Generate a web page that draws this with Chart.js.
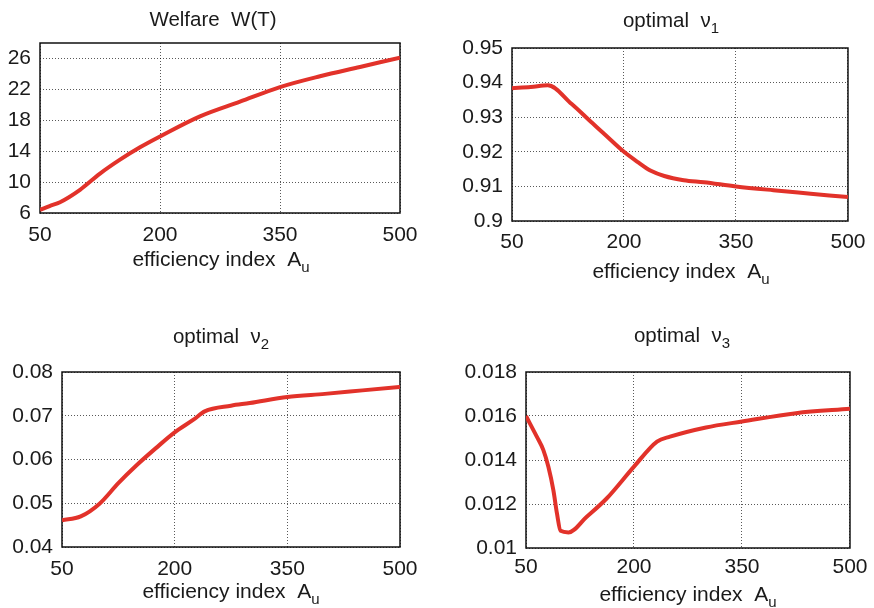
<!DOCTYPE html>
<html>
<head>
<meta charset="utf-8">
<script src="https://cdn.jsdelivr.net/npm/chart.js@4.4.0/dist/chart.umd.min.js"></script>
<style>
  body { margin: 0; background: #fff; width: 874px; height: 608px; position: relative; overflow: hidden; }
  canvas { position: absolute; }
</style>
</head>
<body>
<canvas id="welfare" width="437" height="300" style="left:0;top:0"></canvas>
<canvas id="nu1" width="437" height="300" style="left:437px;top:0"></canvas>
<canvas id="nu2" width="437" height="308" style="left:0;top:300px"></canvas>
<canvas id="nu3" width="437" height="308" style="left:437px;top:300px"></canvas>
<script>
// x axis shared by all four panels
var xTicks = [50, 200, 350, 500];

// Welfare W(T)
var welfareX = [50, 62, 75, 100, 125, 150, 175, 200, 250, 300, 350, 400, 450, 500];
var welfareY = [6.4, 6.9, 7.4, 9.0, 11.1, 12.9, 14.5, 15.9, 18.5, 20.4, 22.3, 23.7, 24.9, 26.1];
var welfareTicks = [6, 10, 14, 18, 22, 26];

// optimal nu1
var nu1X = [50, 75, 98, 130, 156, 174, 200, 218, 236, 254, 280, 307, 350, 400, 450, 500];
var nu1Y = [0.9384, 0.9387, 0.9392, 0.9338, 0.9286, 0.9251, 0.9200, 0.9171, 0.9145, 0.9130, 0.9118, 0.9112, 0.9100, 0.9089, 0.9079, 0.9069];
var nu1Ticks = [0.9, 0.91, 0.92, 0.93, 0.94, 0.95];

// optimal nu2
var nu2X = [50, 75, 100, 125, 150, 175, 200, 225, 240, 275, 300, 350, 400, 450, 500];
var nu2Y = [0.0461, 0.0470, 0.0499, 0.0546, 0.0588, 0.0626, 0.0662, 0.0691, 0.0710, 0.0723, 0.0729, 0.0743, 0.0750, 0.0758, 0.0766];
var nu2Ticks = [0.04, 0.05, 0.06, 0.07, 0.08];

// optimal nu3
var nu3X = [50, 65, 74, 81, 88, 93, 98, 109, 134, 162, 200, 232, 250, 300, 350, 425, 500];
var nu3Y = [0.0160, 0.01506, 0.01446, 0.0137, 0.01263, 0.01157, 0.01078, 0.01071, 0.01141, 0.01225, 0.0137, 0.01484, 0.01506, 0.01548, 0.01575, 0.01613, 0.01633];
var nu3Ticks = [0.01, 0.012, 0.014, 0.016, 0.018];

var FONT = "'Liberation Sans', Arial, Helvetica, sans-serif";
var RED = '#e2322a';

// draw text with optional subscript pieces
function drawRich(ctx, parts, cx, baseline, size) {
  ctx.save();
  ctx.fillStyle = '#1a1a1a';
  ctx.textBaseline = 'alphabetic';
  ctx.textAlign = 'left';
  var total = 0;
  parts.forEach(function (p) {
    ctx.font = (p[1] ? 15 : size) + 'px ' + FONT;
    total += ctx.measureText(p[0]).width;
  });
  var x = cx - total / 2;
  parts.forEach(function (p) {
    ctx.font = (p[1] ? 15 : size) + 'px ' + FONT;
    ctx.fillText(p[0], x, baseline + (p[1] ? 6 : 0));
    x += ctx.measureText(p[0]).width;
  });
  ctx.restore();
}

var textPlugin = {
  id: 'panelText',
  beforeDatasetsDraw: function (chart) {
    var a = chart.chartArea, ctx = chart.ctx;
    ctx.save();
    ctx.strokeStyle = '#111';
    ctx.lineWidth = 1.5;
    ctx.strokeRect(a.left, a.top, a.right - a.left, a.bottom - a.top);
    ctx.restore();
  },
  afterDraw: function (chart, args, o) {
    drawRich(chart.ctx, o.title, o.titleX, o.titleY, 20.5);
    drawRich(chart.ctx, o.xlabel, o.xlabelX, o.xlabelY, 21);
  }
};

function fmt(v) { return String(Math.round(v * 1e6) / 1e6); }

function makePanel(id, xs, ys, yTicks, yMin, yMax, box, text) {
  var pts = xs.map(function (x, i) { return { x: x, y: ys[i] }; });
  var canvas = document.getElementById(id);
  var h = canvas.height, w = canvas.width;
  return new Chart(canvas, {
    type: 'line',
    data: {
      datasets: [{
        data: pts,
        borderColor: RED,
        borderWidth: 4,
        pointRadius: 0,
        fill: false,
        cubicInterpolationMode: 'monotone'
      }]
    },
    options: {
      responsive: false,
      animation: false,
      devicePixelRatio: 1,
      layout: { padding: { top: box.top, right: w - box.right, bottom: 0, left: 0 } },
      plugins: {
        legend: { display: false },
        tooltip: { enabled: false },
        panelText: text
      },
      scales: {
        x: {
          type: 'linear',
          min: 50,
          max: 500,
          afterFit: function (axis) { axis.height = h - box.bottom; },
          afterBuildTicks: function (axis) { axis.ticks = xTicks.map(function (v) { return { value: v }; }); },
          grid: { color: 'rgba(0,0,0,0.65)', lineWidth: 1, drawTicks: false },
          border: { display: false, dash: [1, 2] },
          ticks: { font: { family: FONT, size: 21 }, color: '#1a1a1a', padding: box.xPad, maxRotation: 0, callback: fmt }
        },
        y: {
          type: 'linear',
          min: yMin,
          max: yMax,
          afterFit: function (axis) { axis.width = box.left; },
          afterBuildTicks: function (axis) { axis.ticks = yTicks.map(function (v) { return { value: v }; }); },
          grid: { color: 'rgba(0,0,0,0.65)', lineWidth: 1, drawTicks: false },
          border: { display: false, dash: [1, 2] },
          ticks: { font: { family: FONT, size: 21 }, color: '#1a1a1a', padding: 9, callback: fmt }
        }
      }
    },
    plugins: [textPlugin]
  });
}

makePanel('welfare', welfareX, welfareY, welfareTicks, 6, 28,
  { left: 40, right: 400, top: 43, bottom: 213, xPad: 9.5 },
  { title: [['Welfare  W(T)', false]], titleX: 213, titleY: 26,
    xlabel: [['efficiency index  A', false], ['u', true]], xlabelX: 221, xlabelY: 266 });

makePanel('nu1', nu1X, nu1Y, nu1Ticks, 0.9, 0.95,
  { left: 75, right: 413, top: 48, bottom: 221, xPad: 8.5 },
  { title: [['optimal  \u03bd', false], ['1', true]], titleX: 234, titleY: 27,
    xlabel: [['efficiency index  A', false], ['u', true]], xlabelX: 244, xlabelY: 278 });

makePanel('nu2', nu2X, nu2Y, nu2Ticks, 0.04, 0.08,
  { left: 62, right: 400, top: 72, bottom: 247, xPad: 10 },
  { title: [['optimal  \u03bd', false], ['2', true]], titleX: 221, titleY: 43,
    xlabel: [['efficiency index  A', false], ['u', true]], xlabelX: 231, xlabelY: 298 });

makePanel('nu3', nu3X, nu3Y, nu3Ticks, 0.01, 0.018,
  { left: 89, right: 413, top: 72, bottom: 248, xPad: 6.5 },
  { title: [['optimal  \u03bd', false], ['3', true]], titleX: 245, titleY: 42,
    xlabel: [['efficiency index  A', false], ['u', true]], xlabelX: 251, xlabelY: 301 });
</script>
</body>
</html>
